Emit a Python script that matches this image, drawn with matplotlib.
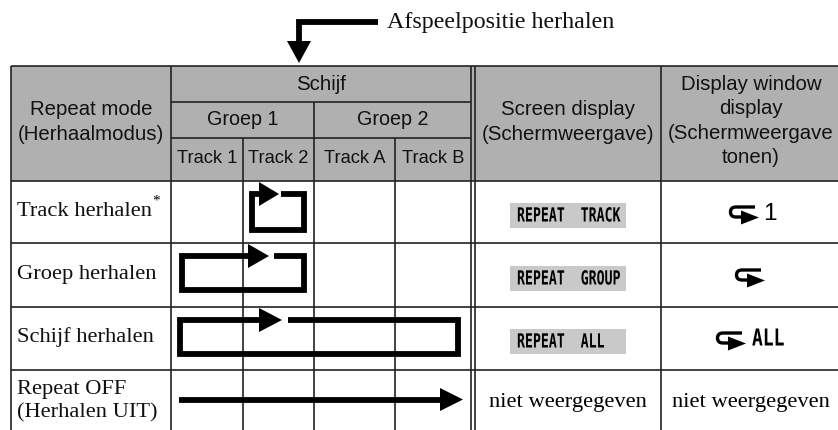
import matplotlib
matplotlib.use('Agg')
import matplotlib.pyplot as plt
from matplotlib.patches import Polygon, Rectangle, PathPatch
from matplotlib.path import Path
from matplotlib.patheffects import AbstractPathEffect
from matplotlib.transforms import Affine2D

# table grid, in pixels of the picture
col_edges = [10.5, 171, 243, 313.5, 395, 471, 475, 661]
row_edges = [65.5, 102, 138, 181, 243, 307, 370]
bottom = 430
right = 838

header_fill = '#b0b0b0'
badge_fill = '#c9c9c9'
sans = 'Liberation Sans'
serif = 'Liberation Serif'
mono = 'DejaVu Sans Mono'

top_label = 'Afspeelpositie herhalen'
mode_header = 'Repeat mode\n(Herhaalmodus)'
disc_header = 'Schijf'
group_names = ['Groep 1', 'Groep 2']
track_names = ['Track 1', 'Track 2', 'Track A', 'Track B']
screen_header = 'Screen display\n(Schermweergave)'
window_header = 'Display window\ndisplay\n(Schermweergave\ntonen)'
mode_names = ['Track herhalen', 'Groep herhalen', 'Schijf herhalen',
              'Repeat OFF\n(Herhalen UIT)']
screen_texts = ['REPEAT  TRACK', 'REPEAT  GROUP', 'REPEAT  ALL']
not_shown = 'niet weergegeven'

# loops: x left, x right, y top, y bottom, arrow base, arrow tip, gap end
loops = [
    (252, 304, 194, 230, 259, 279, 281),
    (181.5, 304, 256, 290, 248, 269, 274),
    (180, 458, 320, 354, 259, 282, 288),
]
row_mid = [211, 274.5, 337]
badge_mid = [215.5, 278.5, 341.5]
icon_left = [729, 735, 716]
icon_top = [205, 268, 331]

fig = plt.figure(figsize=(8.38, 4.3), dpi=100)
ax = fig.add_axes([0, 0, 1, 1])
ax.set_xlim(0, right)
ax.set_ylim(bottom, 0)
ax.axis('off')


class Squeeze(AbstractPathEffect):
    # narrows the glyphs, there is no condensed font installed
    def __init__(self, sx):
        super().__init__()
        self.sx = sx

    def draw_path(self, renderer, gc, tpath, affine, rgbFace=None):
        renderer.draw_path(gc, tpath, Affine2D().scale(self.sx, 1) + affine, rgbFace)


def line(xs, ys, lw=1.2, z=3):
    ax.plot(xs, ys, color='#222222', lw=lw, solid_capstyle='butt', zorder=z)


def thick(xs, ys):
    ax.plot(xs, ys, color='black', lw=4.2, solid_capstyle='butt',
            solid_joinstyle='miter', zorder=5)


def head(base, tip, y, half):
    ax.add_patch(Polygon([(base, y - half), (tip, y), (base, y + half)],
                         fc='black', ec='none', zorder=6))


def icon(x, top):
    # small repeat symbol of the display window
    verts = [(x + 26, top + 2), (x + 7, top + 2), (x + 1.5, top + 2), (x + 1.5, top + 7),
             (x + 1.5, top + 12), (x + 7, top + 12), (x + 15, top + 12)]
    codes = [Path.MOVETO, Path.LINETO, Path.CURVE3, Path.CURVE3,
             Path.CURVE3, Path.CURVE3, Path.LINETO]
    ax.add_patch(PathPatch(Path(verts, codes), fc='none', ec='black', lw=2.4,
                           capstyle='butt', zorder=6))
    head(x + 12, x + 30, top + 12.5, 7)


# header background
ax.add_patch(Rectangle((col_edges[0], row_edges[0]), right - col_edges[0],
                       row_edges[3] - row_edges[0], fc=header_fill, ec='none', zorder=1))

# grid lines
line([col_edges[0], right], [row_edges[0]] * 2)
line([col_edges[1], col_edges[5]], [row_edges[1]] * 2)
line([col_edges[1], col_edges[5]], [row_edges[2]] * 2)
for y in row_edges[3:]:
    line([col_edges[0], right], [y, y])
for x in [col_edges[0], col_edges[1], col_edges[5], col_edges[6], col_edges[7]]:
    line([x, x], [row_edges[0], bottom])
line([col_edges[3]] * 2, [row_edges[1], bottom])
line([col_edges[2]] * 2, [row_edges[2], bottom])
line([col_edges[4]] * 2, [row_edges[2], bottom])

# header text
hdr = dict(family=sans, ha='center', va='center', color='#111111', linespacing=1.36, zorder=7)
ax.text(91, 122, mode_header, fontsize=14.7, **hdr)
ax.text(321, 84, disc_header, fontsize=14.7, **hdr)
for i, name in enumerate(group_names):
    ax.text((col_edges[1 + 2 * i] + col_edges[3 + 2 * i]) / 2, 119.5, name, fontsize=14.2, **hdr)
for i, name in enumerate(track_names):
    ax.text((col_edges[1 + i] + col_edges[2 + i]) / 2, 158.5, name, fontsize=13.2, **hdr)
ax.text(568, 122, screen_header, fontsize=14.7, **hdr)
ax.text(751, 121, window_header, fontsize=14.7, **hdr)

# row labels
txt = dict(family=serif, fontsize=16.2, va='center', color='#111111', zorder=7)
for name, y in zip(mode_names[:3], row_mid):
    ax.text(17, y, name, **txt)
ax.text(17, 401.5, mode_names[3], linespacing=1.3, **txt)
ax.text(156, 201, '*', family=serif, fontsize=11, ha='center', va='center', zorder=7)

# loops and arrows
for left, rgt, top, low, base, tip, gap in loops:
    thick([base + 1, left, left, rgt, rgt, gap], [top, top, low, low, top, top])
    head(base, tip, top, 12)
thick([179, 441], [400, 400])
head(440, 463, 399.5, 11.5)

# top pointer
thick([378, 298.5, 298.5], [22, 22, 42])
ax.add_patch(Polygon([(287, 41), (311, 41), (299, 63)], fc='black', ec='none', zorder=6))
ax.text(387, 22.5, top_label, family=serif, fontsize=17.3, va='center', color='#111111')

# screen display column
for name, y in zip(screen_texts, badge_mid):
    ax.add_patch(Rectangle((510, y - 12.5), 116, 25, fc=badge_fill, ec='none', zorder=2))
    ax.text(517, y + 0.5, name, family=mono, fontsize=14, weight='bold', va='center', ha='left',
            color='black', zorder=7, path_effects=[Squeeze(0.68)])
ax.text(568, 403, not_shown, family=serif, fontsize=16.2, ha='center', va='center', zorder=7)

# display window column
for x, top in zip(icon_left, icon_top):
    icon(x, top)
ax.text(763, 214, '1', family=sans, fontsize=17.5, va='center', ha='left', color='black', zorder=7)
ax.text(752, 339, 'ALL', family=mono, fontsize=16.8, weight='bold', va='center', ha='left',
        color='black', zorder=7, path_effects=[Squeeze(0.77)])
ax.text(751, 403, not_shown, family=serif, fontsize=16.2, ha='center', va='center', zorder=7)

fig.savefig('out.png', dpi=100)
